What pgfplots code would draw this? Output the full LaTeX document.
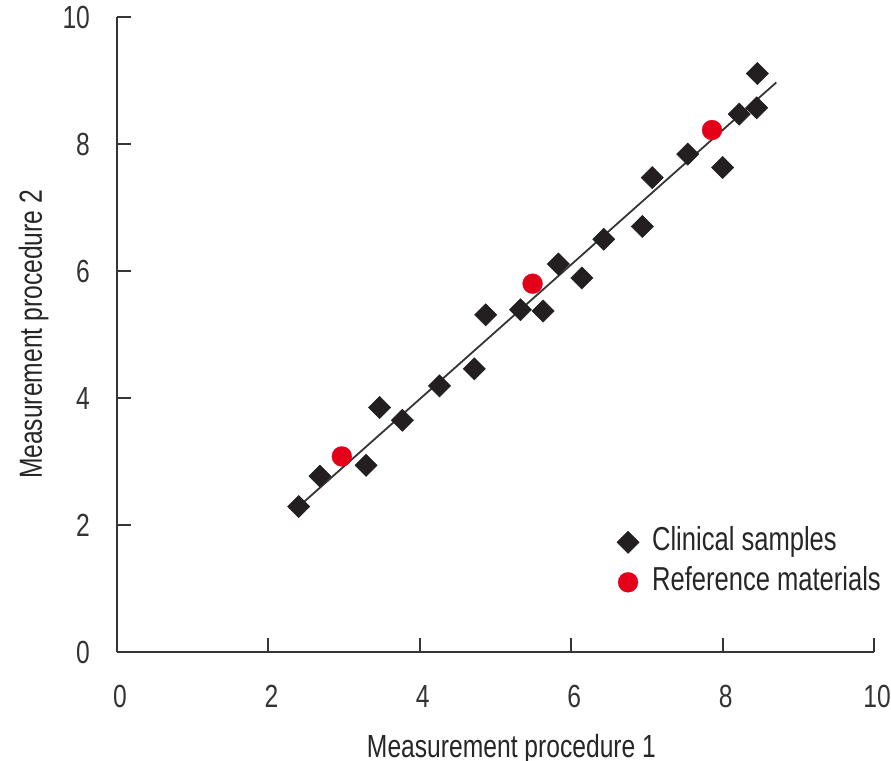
\documentclass[border=0pt]{standalone}
\usepackage{fontspec}
\setmainfont{Liberation Sans}[FakeStretch=0.77]
\usepackage{pgfplots}
\pgfplotsset{compat=1.18}
\definecolor{mk}{RGB}{35,31,32}
\definecolor{axc}{RGB}{55,52,53}
\definecolor{rd}{RGB}{228,0,25}
\begin{document}
\fontsize{16bp}{19bp}\selectfont
\begin{tikzpicture}
\begin{axis}[
  name=ax,
  scale only axis,
  width=378.5bp, height=317.5bp,
  xmin=0, xmax=10, ymin=0, ymax=10,
  axis x line*=bottom, axis y line*=left,
  axis line style={-, axc, line width=1bp},
  xtick={0,2,...,10}, ytick={0,2,...,10},
  tick align=inside,
  major tick length=7bp,
  every tick/.style={axc, line width=1bp},
  /pgf/number format/assume math mode=true,
  tick label style={font=\fontsize{16bp}{19bp}\selectfont, text=black!80},
  xticklabel style={yshift=-11bp, xshift=1.5bp},
  yticklabel style={xshift=-8bp},
  xlabel={Measurement procedure 1},
  ylabel={Measurement procedure 2},
  label style={font=\fontsize{16bp}{19bp}\selectfont, text=black!85},
  xlabel style={at={(axis description cs:0.5211,-0.1654)}, anchor=base, inner sep=0pt},
  ylabel style={at={(axis description cs:-0.0991,0.5)}, anchor=base, inner sep=0pt, rotate=0},
  legend image code/.code={\draw[#1] plot coordinates {(0bp,0bp)};},
  legend style={draw=none, fill=none, at={(axis cs:6.6,1.97)}, anchor=north west,
    inner sep=0pt, row sep=5bp, column sep=6.5bp,
    font=\fontsize{16.6bp}{19bp}\selectfont,
    nodes={inner sep=0pt, text height=11.5bp, text depth=3.5bp, text=black!85}},
  legend cell align=left,
  clip=false,
]
\addplot[axc, line width=0.9bp, no marks, forget plot] coordinates {(2.40,2.29) (8.71,8.97)};
\addplot[only marks, mark=square*, mark size=3.9bp, mark options={rotate=45, fill=mk, draw=mk, line width=0.3bp}] coordinates {
(2.40,2.29) (2.68,2.77) (3.29,2.94) (3.47,3.85) (3.77,3.65)
(4.26,4.19) (4.72,4.46) (4.87,5.31) (5.33,5.39) (5.63,5.37)
(5.83,6.11) (6.14,5.89) (6.43,6.50) (6.94,6.70) (7.07,7.47)
(7.54,7.84) (8.00,7.63) (8.22,8.47) (8.45,8.57) (8.46,9.11)
};
\addlegendentry{Clinical samples}
\addplot[only marks, color=rd, mark=*, mark size=5bp, mark options={fill=rd, draw=rd, line width=0.1bp}] coordinates {
(2.97,3.08) (5.49,5.80) (7.86,8.22)
};
\addlegendentry{Reference materials}
\end{axis}
\pgfresetboundingbox
\path[use as bounding box] ([xshift=-58.5bp,yshift=-54.5bp]ax.south west) rectangle ([xshift=8.5bp,yshift=8.5bp]ax.north east);
\end{tikzpicture}
\end{document}
